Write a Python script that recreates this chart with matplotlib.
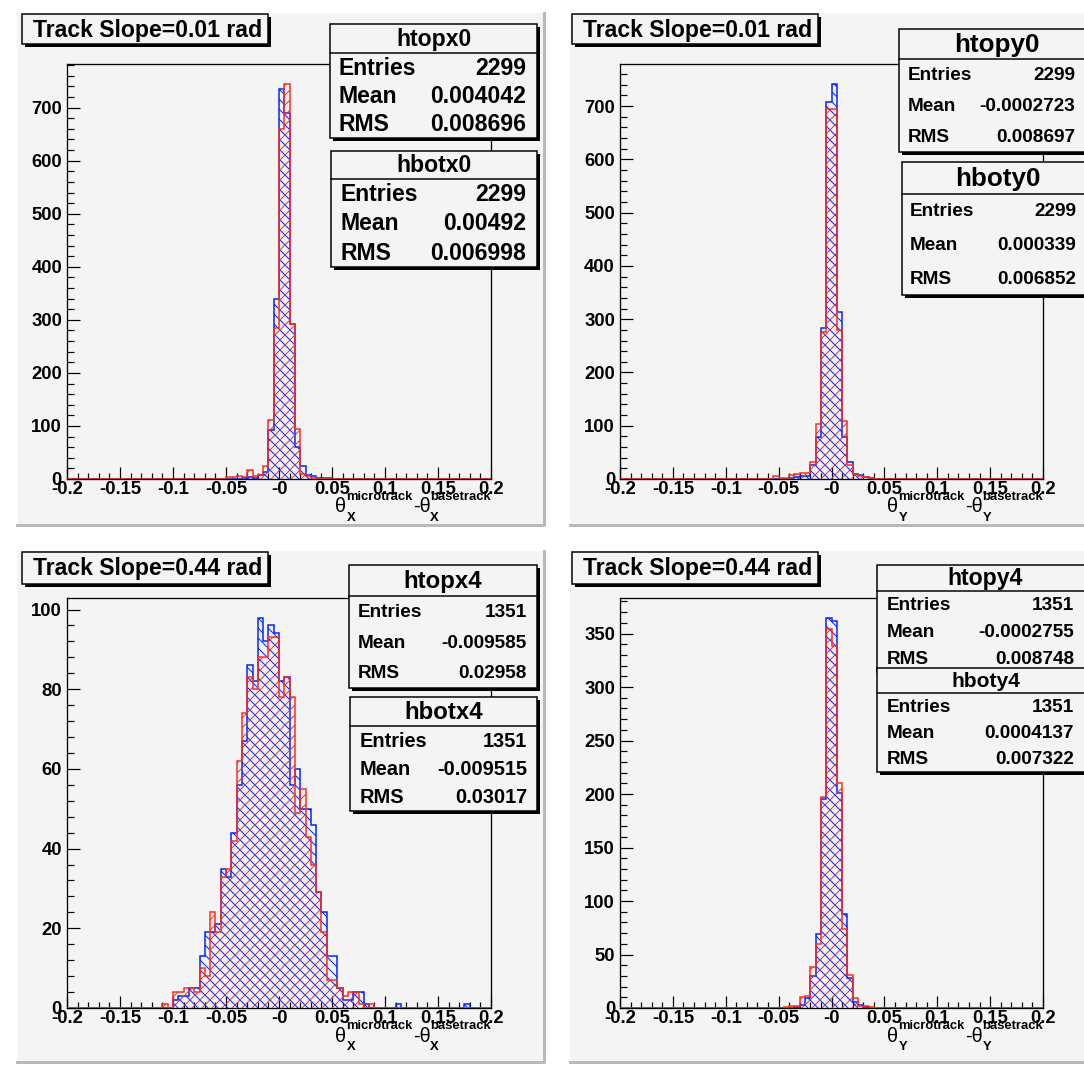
import matplotlib
matplotlib.use('Agg')
import matplotlib.pyplot as plt
from matplotlib.patches import Rectangle
from matplotlib.ticker import MultipleLocator
import numpy as np

# canvas in pixels
W, H, DPI = 1084, 1065, 120

plt.rcParams['font.family'] = ['Liberation Sans', 'DejaVu Sans']
plt.rcParams['font.weight'] = 'bold'
plt.rcParams['hatch.linewidth'] = 0.6

# ---- data: 80 bins of 0.005 from -0.2 to 0.2, counts given from a first bin index
bin_lo, bin_w, n_bins = -0.2, 0.005, 80

htopx0_first = 33
htopx0 = [2, 3, 2, 8, 14, 93, 340, 735, 690, 293, 60, 24, 8, 5, 2, 2, 1]
hbotx0_first = 30
hbotx0 = [3, 4, 6, 3, 17, 5, 8, 24, 111, 285, 660, 745, 292, 94, 10, 6, 2]

htopy0_first = 32
htopy0 = [2, 4, 6, 6, 26, 78, 284, 708, 742, 313, 78, 31, 10, 8, 4, 1]
hboty0_first = 29
hboty0 = [5, 2, 2, 8, 10, 11, 11, 31, 103, 276, 694, 694, 279, 109, 27, 10, 5, 3, 2]

htopx4_first = 20
htopx4 = [2, 3, 3, 5, 5, 13, 19, 19, 21, 35, 33, 44, 56, 67, 86, 82, 98, 92, 96, 94,
          82, 83, 56, 60, 50, 50, 46, 29, 24, 13, 13, 5, 2, 2, 4, 4, 1, 0, 0, 0,
          0, 0, 1, 0, 0, 0, 0, 0, 0, 0, 0, 0, 0, 0, 0, 1]
hbotx4_first = 18
hbotx4 = [1, 0, 4, 4, 5, 5, 4, 10, 8, 24, 19, 33, 35, 42, 62, 74, 83, 80, 88, 88,
          93, 93, 78, 83, 78, 49, 55, 43, 36, 29, 19, 7, 7, 5, 3, 4, 4, 1, 0, 1]

htopy4_first = 33
htopy4 = [1, 3, 9, 30, 69, 195, 365, 362, 201, 88, 28, 6, 3, 1]
hboty4_first = 31
hboty4 = [1, 2, 2, 10, 11, 38, 60, 197, 354, 338, 210, 74, 31, 9, 2, 2, 1]

stats_x0 = {'htopx0': ['2299', '0.004042', '0.008696'],
            'hbotx0': ['2299', '0.00492', '0.006998']}
stats_y0 = {'htopy0': ['2299', '-0.0002723', '0.008697'],
            'hboty0': ['2299', '0.000339', '0.006852']}
stats_x4 = {'htopx4': ['1351', '-0.009585', '0.02958'],
            'hbotx4': ['1351', '-0.009515', '0.03017']}
stats_y4 = {'htopy4': ['1351', '-0.0002755', '0.008748'],
            'hboty4': ['1351', '0.0004137', '0.007322']}
stat_labels = ['Entries', 'Mean', 'RMS']

x_ticks = [-0.2, -0.15, -0.1, -0.05, 0, 0.05, 0.1, 0.15, 0.2]
x_tick_labels = ['-0.2', '-0.15', '-0.1', '-0.05', '-0', '0.05', '0.1', '0.15', '0.2']

edges = bin_lo + bin_w * np.arange(n_bins + 1)


def full(first, counts):
    v = np.zeros(n_bins)
    v[first:first + len(counts)] = counts
    return v


def pt(p):
    # pixels -> points
    return p * 72.0 / DPI


def frect(x0, y0, x1, y1):
    return (x0 / W, 1 - y1 / H), (x1 - x0) / W, (y1 - y0) / H


fig = plt.figure(figsize=(W / DPI, H / DPI), dpi=DPI, facecolor='white')
renderer = fig.canvas.get_renderer()


def add_box(x0, y0, x1, y1, face, lw=1.3, shadow=3, z=5):
    if shadow:
        xy, w, h = frect(x0 + shadow, y0 + shadow, x1 + shadow, y1 + shadow)
        fig.add_artist(Rectangle(xy, w, h, transform=fig.transFigure,
                                 facecolor='black', edgecolor='none', zorder=z))
    xy, w, h = frect(x0, y0, x1, y1)
    fig.add_artist(Rectangle(xy, w, h, transform=fig.transFigure,
                             facecolor=face, edgecolor='black', linewidth=pt(lw), zorder=z))


def add_line(xs, ys, color, lw, z=5):
    fig.add_artist(plt.Line2D([x / W for x in xs], [1 - y / H for y in ys],
                              transform=fig.transFigure, color=color,
                              linewidth=pt(lw), zorder=z))


def ftext(x, y, s, size_px, weight='bold', **kw):
    return fig.text(x / W, 1 - y / H, s, fontsize=pt(size_px), fontweight=weight, **kw)


def text_w(s, size_px, weight):
    t = ftext(0, 0, s, size_px, weight)
    w = t.get_window_extent(renderer).width
    t.remove()
    return w


def axis_title(x_right, y_mid, a):
    # theta_a^{microtrack} - theta_a^{basetrack}, right aligned at x_right
    big, small = 20, 13
    parts = [('θ', None), ('microtrack', a), ('-θ', None), ('basetrack', a)]
    widths = []
    for s, sub in parts:
        if sub is None:
            widths.append(text_w(s, big, 'normal'))
        else:
            widths.append(max(text_w(s, small, 'bold'), text_w(sub, small, 'bold')))
    x = x_right - sum(widths)
    for (s, sub), w in zip(parts, widths):
        if sub is None:
            ftext(x, y_mid, s, big, 'normal', ha='left', va='center')
        else:
            ftext(x, y_mid - 10, s, small, ha='left', va='center')
            ftext(x, y_mid + 11, sub, small, ha='left', va='center')
        x += w


PAD_BG = '#f4f4f4'

panels = [
    dict(pad=(16, 12, 545, 526), ax=(67, 64, 491, 479), ymajor=100,
         title='Track Slope=0.01 rad', tbox=(22, 14, 268, 44),
         blue=full(htopx0_first, htopx0), red=full(hbotx0_first, hbotx0), axis='X',
         stats=stats_x0,
         sboxes=[(330, 24, 537, 138, 53, 23, 23, 339, 526),
                 (331, 151, 537, 267, 179, 23, 23, 341, 526)]),
    dict(pad=(569, 12, 1090, 526), ax=(620, 64, 1043, 479), ymajor=100,
         title='Track Slope=0.01 rad', tbox=(572, 14, 818, 44),
         blue=full(htopy0_first, htopy0), red=full(hboty0_first, hboty0), axis='Y',
         stats=stats_y0,
         sboxes=[(899, 29, 1095, 152, 59, 26, 19, 908, 1075),
                 (902, 162, 1095, 295, 194, 26, 19, 910, 1076)]),
    dict(pad=(16, 550, 545, 1063), ax=(67, 598, 491, 1008), ymajor=20,
         title='Track Slope=0.44 rad', tbox=(22, 552, 268, 584),
         blue=full(htopx4_first, htopx4), red=full(hbotx4_first, hbotx4), axis='X',
         stats=stats_x4,
         sboxes=[(349, 565, 537, 688, 596, 24, 19, 358, 527),
                 (350, 697, 537, 811, 726, 24, 20, 360, 527)]),
    dict(pad=(569, 550, 1090, 1063), ax=(620, 598, 1043, 1008), ymajor=50,
         title='Track Slope=0.44 rad', tbox=(572, 552, 818, 584),
         blue=full(htopy4_first, htopy4), red=full(hboty4_first, hboty4), axis='Y',
         stats=stats_y4,
         sboxes=[(877, 565, 1095, 672, 591, 23, 19, 887, 1074),
                 (877, 668, 1095, 772, 693, 21, 19, 887, 1074)]),
]

for p in panels:
    # pad background with bevel
    x0, y0, x1, y1 = p['pad']
    xy, w, h = frect(x0, y0, x1, y1)
    fig.add_artist(Rectangle(xy, w, h, transform=fig.transFigure,
                             facecolor=PAD_BG, edgecolor='none', zorder=-2))
    add_line([x0, x0, x1], [y1, y0, y0], 'white', 2, z=-1)
    add_line([x0 + 1, x1 - 1, x1 - 1], [y1 - 1, y1 - 1, y0 + 1], '#b9b9b9', 3, z=-1)

    # axes
    ax0, ay0, ax1, ay1 = p['ax']
    xy, w, h = frect(ax0, ay0, ax1, ay1)
    ax = fig.add_axes([xy[0], xy[1], w, h])
    ax.set_facecolor('none')
    ymax = 1.05 * max(p['blue'].max(), p['red'].max())
    ax.stairs(p['blue'], edges, fill=True, facecolor='none', edgecolor='#0022ff',
              hatch='\\\\\\\\', linewidth=pt(1.5), zorder=2)
    ax.stairs(p['red'], edges, fill=True, facecolor='none', edgecolor='#ff2a1a',
              hatch='////', linewidth=pt(1.5), zorder=3)
    ax.set_xlim(-0.2, 0.2)
    ax.set_ylim(0, ymax)
    ax.set_xticks(x_ticks, labels=x_tick_labels)
    ax.xaxis.set_minor_locator(MultipleLocator(0.01))
    ax.yaxis.set_major_locator(MultipleLocator(p['ymajor']))
    ax.yaxis.set_minor_locator(MultipleLocator(p['ymajor'] / 5))
    ax.tick_params(which='both', direction='in', top=False, right=False,
                   width=pt(1.2), colors='black', labelsize=pt(18.5))
    ax.tick_params(which='major', length=pt(12.5))
    ax.tick_params(which='minor', length=pt(6.5))
    ax.tick_params(axis='y', pad=pt(5))
    ax.tick_params(axis='x', pad=pt(2))
    for lab in ax.get_xticklabels() + ax.get_yticklabels():
        lab.set_fontweight('bold')
    for s in ax.spines.values():
        s.set_linewidth(pt(1.3))

    # axis title under the x axis, right aligned
    axis_title(ax1, ay1 + 28, p['axis'])

    # title box
    tx0, ty0, tx1, ty1 = p['tbox']
    add_box(tx0, ty0, tx1, ty1, PAD_BG, lw=1.5, shadow=3)
    ftext(tx0 + 11, (ty0 + ty1) / 2 + 1, p['title'], 23, ha='left', va='center', zorder=6)

    # stats boxes (second one drawn over the first)
    for k, ((name, vals), sb) in enumerate(zip(p['stats'].items(), p['sboxes'])):
        bx0, by0, bx1, by1, hy, tpx, rpx, lx, vx = sb
        z = 7 + 3 * k
        add_box(bx0, by0, bx1, by1, PAD_BG, lw=1.5, shadow=3, z=z)
        add_line([bx0, bx1], [hy, hy], 'black', 1.5, z=z + 1)
        cx = (bx0 + bx1) / 2 if bx1 <= 1084 else (bx0 + 1094) / 2
        ftext(cx, (by0 + hy) / 2 + 1, name, tpx, ha='center', va='center', zorder=z + 2)
        for i, (lab, v) in enumerate(zip(stat_labels, vals)):
            ry = hy + (by1 - hy) * (i + 0.5) / 3 + 1
            ftext(lx, ry, lab, rpx, ha='left', va='center', zorder=z + 2)
            ftext(vx, ry, v, rpx, ha='right', va='center', zorder=z + 2)

fig.savefig('out.png', dpi=DPI, facecolor=fig.get_facecolor())
